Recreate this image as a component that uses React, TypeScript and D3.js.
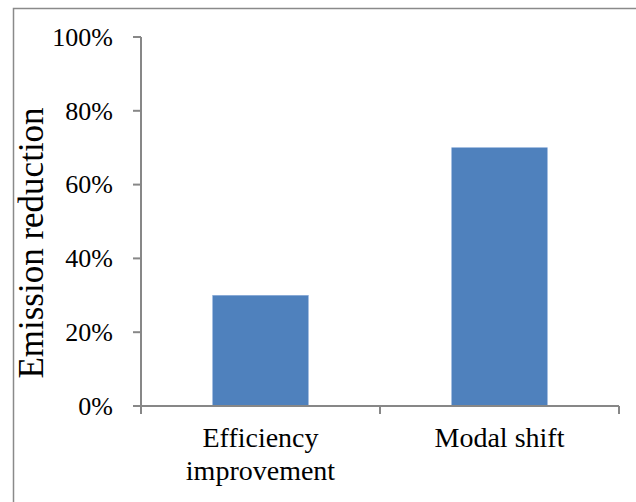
import React from "react";
import * as d3 from "d3";

const categories: string[][] = [["Efficiency", "improvement"], ["Modal shift"]];
const categoryKeys = ["Efficiency improvement", "Modal shift"];
const values = [0.3, 0.7];
const yTicks = [0, 0.2, 0.4, 0.6, 0.8, 1.0];
const yTitle = "Emission reduction";

const W = 636;
const H = 502;
const FONT = "'Liberation Serif', 'Times New Roman', serif";
const AXIS = "#878787";

export default function App() {
  const x0 = 141, x1 = 619, yTop = 37, yBot = 406;
  const x = d3.scaleBand<string>().domain(categoryKeys).range([x0, x1]).paddingInner(0.6).paddingOuter(0.3);
  const y = d3.scaleLinear().domain([0, 1]).range([yBot, yTop]);
  const fmt = d3.format(".0%");
  const bounds = d3.range(categoryKeys.length + 1).map((i) => x0 + ((x1 - x0) / categoryKeys.length) * i);

  return (
    <div style={{ position: "fixed", left: 0, top: 0 }}>
      <svg width={W} height={H} style={{ display: "block", background: "#fff" }}>
        <rect x={13.5} y={8.5} width={640} height={520} fill="none" stroke="#8a8a8a" strokeWidth={1.5} />
        {categoryKeys.map((k, i) => (
          <rect key={k} x={x(k)} y={y(values[i])} width={x.bandwidth()} height={yBot - y(values[i])}
            fill="#4F81BD" stroke="#8eaedb" strokeWidth={0.6} />
        ))}
        <line x1={x0} x2={x0} y1={yTop} y2={yBot + 8} stroke={AXIS} strokeWidth={2} />
        <line x1={x0 - 8} x2={x1} y1={yBot} y2={yBot} stroke={AXIS} strokeWidth={2} />
        {yTicks.map((t) => (
          <g key={t}>
            <line x1={x0 - 8} x2={x0} y1={y(t)} y2={y(t)} stroke={AXIS} strokeWidth={2} />
            <text x={113} y={y(t)} dy="0.34em" textAnchor="end" fontFamily={FONT} fontSize={26} fill="#000">
              {fmt(t)}
            </text>
          </g>
        ))}
        {bounds.map((b, i) => (
          <line key={i} x1={b} x2={b} y1={yBot} y2={yBot + 8} stroke={AXIS} strokeWidth={2} />
        ))}
        {categoryKeys.map((k, i) => (
          <text key={k} textAnchor="middle" fontFamily={FONT} fontSize={28} fill="#000">
            {categories[i].map((line, j) => (
              <tspan key={j} x={(x(k) as number) + x.bandwidth() / 2} y={447 + j * 33}>
                {line}
              </tspan>
            ))}
          </text>
        ))}
        <text transform={`translate(43,243) rotate(-90)`} textAnchor="middle"
          fontFamily={FONT} fontSize={35} fill="#000">
          {yTitle}
        </text>
      </svg>
    </div>
  );
}
